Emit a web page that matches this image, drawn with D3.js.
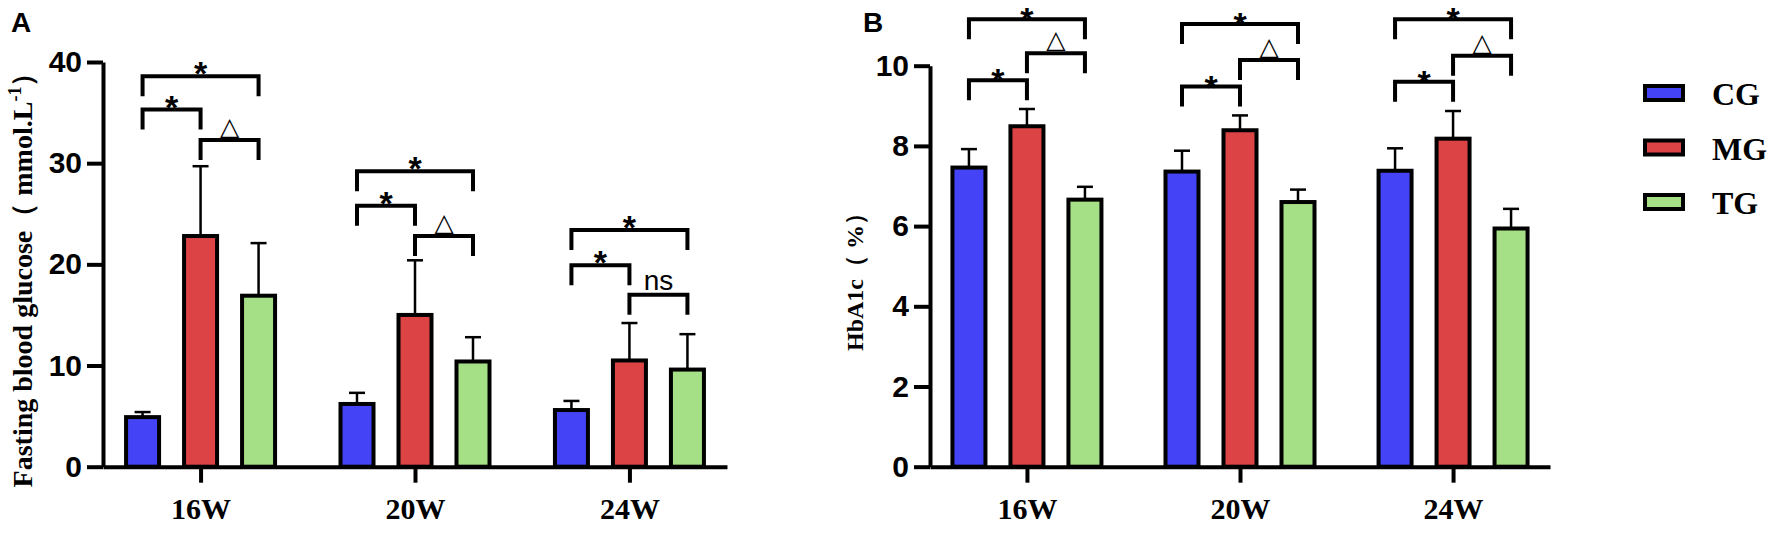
<!DOCTYPE html>
<html>
<head>
<meta charset="utf-8">
<script src="https://cdn.jsdelivr.net/npm/d3@7"></script>
<style>
  body { margin: 0; background: #fff; }
</style>
</head>
<body>
<div id="container"></div>
<script>
    // categories and groups
    const weeks = ["16W", "20W", "24W"];
    const groups = ["CG", "MG", "TG"];
    const colors = ["#4444f6", "#dc4345", "#a6e086"];

    // panel A: fasting blood glucose (mean, SD)
    const glucoseMean = [[4.9, 22.8, 16.9], [6.2, 15.0, 10.4], [5.6, 10.5, 9.6]];
    const glucoseSD = [[0.5, 6.9, 5.2], [1.1, 5.4, 2.4], [0.9, 3.7, 3.5]];
    const glucoseTicks = [0, 10, 20, 30, 40];

    // panel B: HbA1c (mean, SD)
    const hbMean = [[7.46, 8.49, 6.66], [7.36, 8.39, 6.6], [7.38, 8.18, 5.94]];
    const hbSD = [[0.46, 0.43, 0.32], [0.52, 0.37, 0.31], [0.56, 0.69, 0.49]];
    const hbTicks = [0, 2, 4, 6, 8, 10];

    // significance brackets: week, from group, to group, height (data units), label
    const sigA = [
        ["16W", "CG", "TG", 38.6, "*"], ["16W", "CG", "MG", 35.3, "*"], ["16W", "MG", "TG", 32.3, "△"],
        ["20W", "CG", "TG", 29.2, "*"], ["20W", "CG", "MG", 25.8, "*"], ["20W", "MG", "TG", 22.8, "△"],
        ["24W", "CG", "TG", 23.4, "*"], ["24W", "CG", "MG", 19.9, "*"], ["24W", "MG", "TG", 17.0, "ns"]
    ];
    const sigB = [
        ["16W", "CG", "TG", 11.16, "*"], ["16W", "MG", "TG", 10.31, "△"], ["16W", "CG", "MG", 9.64, "*"],
        ["20W", "CG", "TG", 11.04, "*"], ["20W", "MG", "TG", 10.14, "△"], ["20W", "CG", "MG", 9.48, "*"],
        ["24W", "CG", "TG", 11.16, "*"], ["24W", "MG", "TG", 10.25, "△"], ["24W", "CG", "MG", 9.6, "*"]
    ];

    const width = 1772;
    const height = 537;
    const sans = "'Liberation Sans', Arial, sans-serif";
    const serif = "'Liberation Serif', 'Times New Roman', serif";

    const svg = d3.create("svg")
        .attr("width", width)
        .attr("height", height);

    // offsets of the three bars inside a week
    const sub = d3.scaleBand()
        .domain(groups)
        .range([-87, 87])
        .paddingInner(0.431)
        .paddingOuter(0.2155);

    function panel(opts) {
        const x = d3.scalePoint().domain(weeks).range(opts.xRange).padding(0.455);
        const y = d3.scaleLinear().domain(opts.yDomain).range([466.7, opts.yTop]);
        const g = svg.append("g");

        // bars
        weeks.forEach((w, i) => {
            groups.forEach((grp, j) => {
                const v = opts.mean[i][j];
                const cx = x(w) + sub(grp) + sub.bandwidth() / 2;
                // error bar (upper only)
                g.append("line")
                    .attr("x1", cx).attr("x2", cx)
                    .attr("y1", y(v)).attr("y2", y(v + opts.sd[i][j]))
                    .attr("stroke", "#000").attr("stroke-width", 2.5);
                g.append("line")
                    .attr("x1", cx - 8).attr("x2", cx + 8)
                    .attr("y1", y(v + opts.sd[i][j])).attr("y2", y(v + opts.sd[i][j]))
                    .attr("stroke", "#000").attr("stroke-width", 2.5);
                g.append("rect")
                    .attr("x", x(w) + sub(grp))
                    .attr("y", y(v))
                    .attr("width", sub.bandwidth())
                    .attr("height", y(0) - y(v))
                    .attr("fill", colors[j])
                    .attr("stroke", "#000")
                    .attr("stroke-width", 4);
            });
        });

        // y axis
        const yAxis = g.append("g")
            .attr("transform", `translate(${opts.xRange[0]},0)`)
            .call(d3.axisLeft(y).tickValues(opts.ticks).tickSize(16).tickSizeOuter(0).tickPadding(5));
        yAxis.selectAll("path, line").attr("stroke", "#000").attr("stroke-width", 4);
        yAxis.selectAll("text")
            .attr("font-family", sans).attr("font-weight", "bold")
            .attr("font-size", 30).attr("fill", "#000");

        // x axis
        const xAxis = g.append("g")
            .attr("transform", `translate(0,${y(0)})`)
            .call(d3.axisBottom(x).tickSize(16).tickSizeOuter(0).tickPadding(15));
        xAxis.selectAll("path, line").attr("stroke", "#000").attr("stroke-width", 4);
        xAxis.selectAll("text")
            .attr("font-family", serif).attr("font-weight", "bold")
            .attr("font-size", 30).attr("fill", "#000");

        // significance brackets
        opts.sig.forEach(([w, a, b, level, label]) => {
            const x1 = x(w) + sub(a) + sub.bandwidth() / 2;
            const x2 = x(w) + sub(b) + sub.bandwidth() / 2;
            const yy = y(level);
            g.append("path")
                .attr("d", `M${x1},${yy + 20}V${yy}H${x2}V${yy + 20}`)
                .attr("fill", "none").attr("stroke", "#000").attr("stroke-width", 4);
            const t = g.append("text")
                .attr("x", (x1 + x2) / 2)
                .attr("text-anchor", "middle")
                .attr("fill", "#000")
                .text(label);
            if (label === "*") {
                t.attr("y", yy + 19 - opts.starGap).attr("font-family", sans)
                    .attr("font-weight", "bold").attr("font-size", 34);
            } else if (label === "ns") {
                t.attr("y", yy - 5).attr("font-family", sans).attr("font-size", 28);
            } else {
                t.attr("y", yy - 5).attr("font-family", "'DejaVu Sans', sans-serif").attr("font-size", 25);
            }
        });
        return g;
    }

    panel({ xRange: [103, 727], yDomain: [0, 40], yTop: 62, ticks: glucoseTicks,
            mean: glucoseMean, sd: glucoseSD, sig: sigA, starGap: 10 });
    panel({ xRange: [930, 1550], yDomain: [0, 10], yTop: 65.7, ticks: hbTicks,
            mean: hbMean, sd: hbSD, sig: sigB, starGap: 7 });

    // axis titles
    const titleA = svg.append("text")
        .attr("transform", "translate(32,273) rotate(-90)")
        .attr("text-anchor", "middle")
        .attr("font-family", serif).attr("font-weight", "bold")
        .attr("font-size", 28).attr("fill", "#000");
    titleA.append("tspan").text("Fasting blood glucose（ mmol.L");
    titleA.append("tspan").attr("dy", -11).attr("font-size", 18).text("-1");
    titleA.append("tspan").attr("dy", 11).text("）");

    svg.append("text")
        .attr("transform", "translate(863,276) rotate(-90)")
        .attr("text-anchor", "middle")
        .attr("font-family", serif).attr("font-weight", "bold")
        .attr("font-size", 24).attr("fill", "#000")
        .text("HbA1c（ %）");

    // panel letters
    svg.append("text").attr("x", 11).attr("y", 32)
        .attr("font-family", sans).attr("font-weight", "bold").attr("font-size", 28).text("A");
    svg.append("text").attr("x", 863).attr("y", 32)
        .attr("font-family", sans).attr("font-weight", "bold").attr("font-size", 28).text("B");

    // legend
    const legend = svg.append("g");
    groups.forEach((grp, j) => {
        legend.append("rect")
            .attr("x", 1645).attr("y", 86 + j * 54.5)
            .attr("width", 38).attr("height", 14)
            .attr("fill", colors[j]).attr("stroke", "#000").attr("stroke-width", 4);
        legend.append("text")
            .attr("x", 1712).attr("y", 105 + j * 54.5)
            .attr("font-family", serif).attr("font-weight", "bold")
            .attr("font-size", 32).attr("fill", "#000")
            .text(grp);
    });

    container.append(svg.node());
</script>
</body>
</html>
